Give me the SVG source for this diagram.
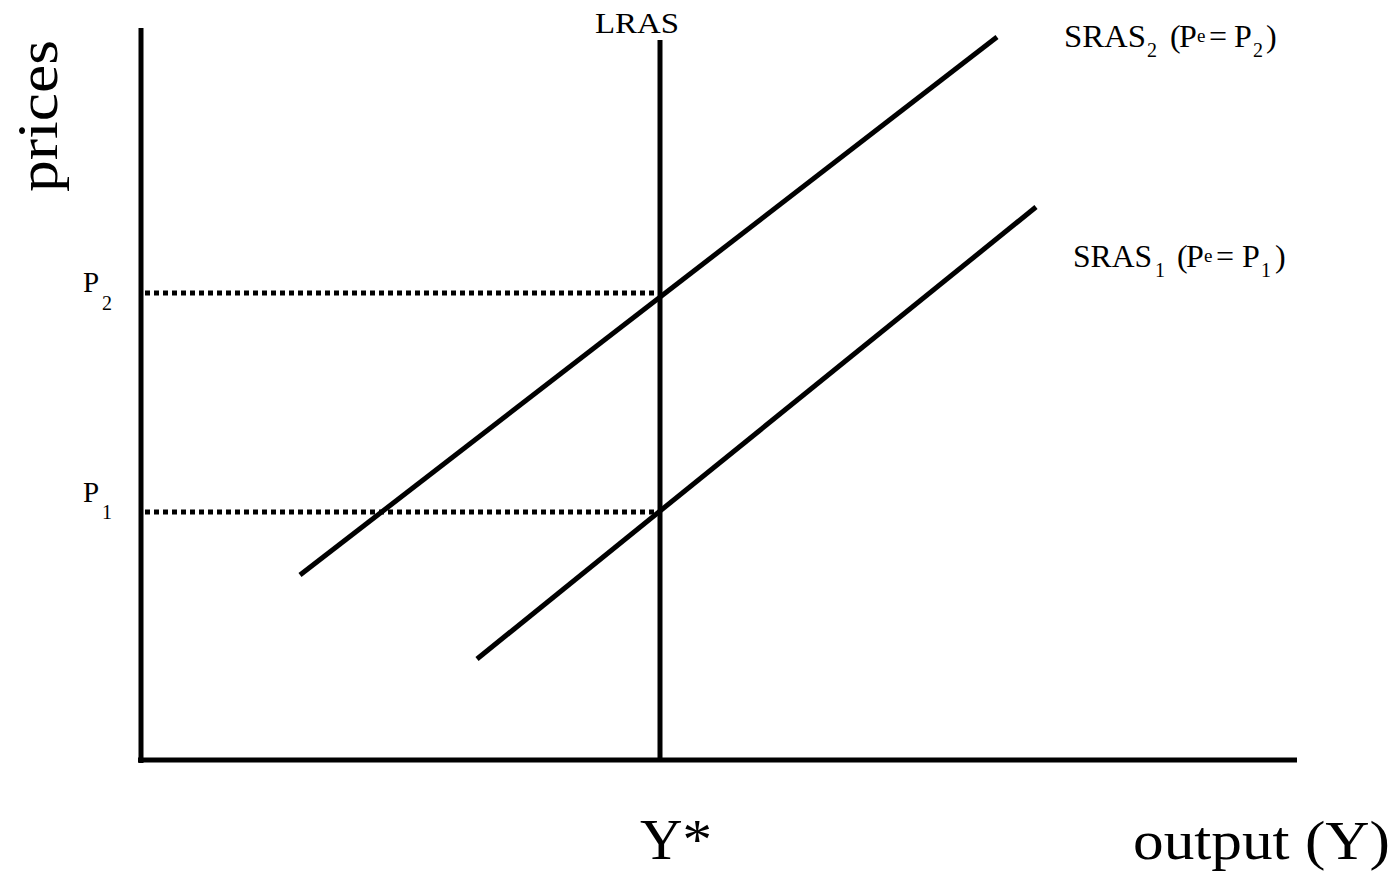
<svg xmlns="http://www.w3.org/2000/svg" width="1395" height="875" viewBox="0 0 1395 875">
<style>
.ln{stroke:#000;stroke-width:5;fill:none}
.dot{stroke:#000;stroke-width:5;stroke-dasharray:5 4;fill:none}
text{font-family:"Liberation Serif","Times New Roman",serif;fill:#000}
.lb{font-size:32px}
.sub{font-size:20px}
.sup{font-size:19px}
</style>
<rect width="1395" height="875" fill="#fff"/>
<g id="axes">
<line class="ln" x1="141" y1="28" x2="141" y2="763"/>
<line class="ln" x1="138" y1="760" x2="1297" y2="760"/>
</g>
<g id="connectors">
<line class="dot" x1="145" y1="293" x2="660" y2="293"/>
<line class="dot" x1="145" y1="512" x2="660" y2="512"/>
</g>
<g id="LRAS">
<line class="ln" x1="660" y1="40" x2="660" y2="760"/>
<text class="lb" x="595" y="33" textLength="84" lengthAdjust="spacingAndGlyphs" style="font-size:30px">LRAS</text>
</g>
<g id="SRAS2">
<line class="ln" x1="300" y1="575" x2="997" y2="37"/>
<text class="lb"><tspan x="1064" y="47" textLength="82" lengthAdjust="spacingAndGlyphs">SRAS</tspan><tspan class="sub" x="1147" y="57">2</tspan><tspan x="1170" y="47">(</tspan><tspan x="1179" y="47">P</tspan><tspan class="sup" x="1197" y="42">e</tspan><tspan x="1209" y="47">=</tspan><tspan x="1234" y="47">P</tspan><tspan class="sub" x="1253" y="57">2</tspan><tspan x="1266" y="47">)</tspan></text>
</g>
<g id="SRAS1">
<line class="ln" x1="477" y1="659" x2="1036" y2="207"/>
<text class="lb"><tspan x="1073" y="267" textLength="79" lengthAdjust="spacingAndGlyphs">SRAS</tspan><tspan class="sub" x="1155" y="277">1</tspan><tspan x="1177" y="267">(</tspan><tspan x="1186" y="267">P</tspan><tspan class="sup" x="1204" y="262">e</tspan><tspan x="1216" y="267">=</tspan><tspan x="1242" y="267">P</tspan><tspan class="sub" x="1261" y="277">1</tspan><tspan x="1275" y="267">)</tspan></text>
</g>
<g id="P2">
<text class="lb" x="83" y="292" style="font-size:29px">P</text>
<text class="sub" x="102" y="310">2</text>
</g>
<g id="P1">
<text class="lb" x="83" y="502" style="font-size:29px">P</text>
<text class="sub" x="102" y="519">1</text>
</g>
<g id="prices">
<text x="57" y="192" transform="rotate(-90 57 192)" style="font-size:56px" textLength="152" lengthAdjust="spacingAndGlyphs">prices</text>
</g>
<g id="Ystar">
<text x="640" y="859" style="font-size:58px" textLength="72" lengthAdjust="spacingAndGlyphs">Y*</text>
</g>
<g id="output">
<text x="1133" y="859" style="font-size:54px" textLength="257" lengthAdjust="spacingAndGlyphs">output (Y)</text>
</g>
</svg>
